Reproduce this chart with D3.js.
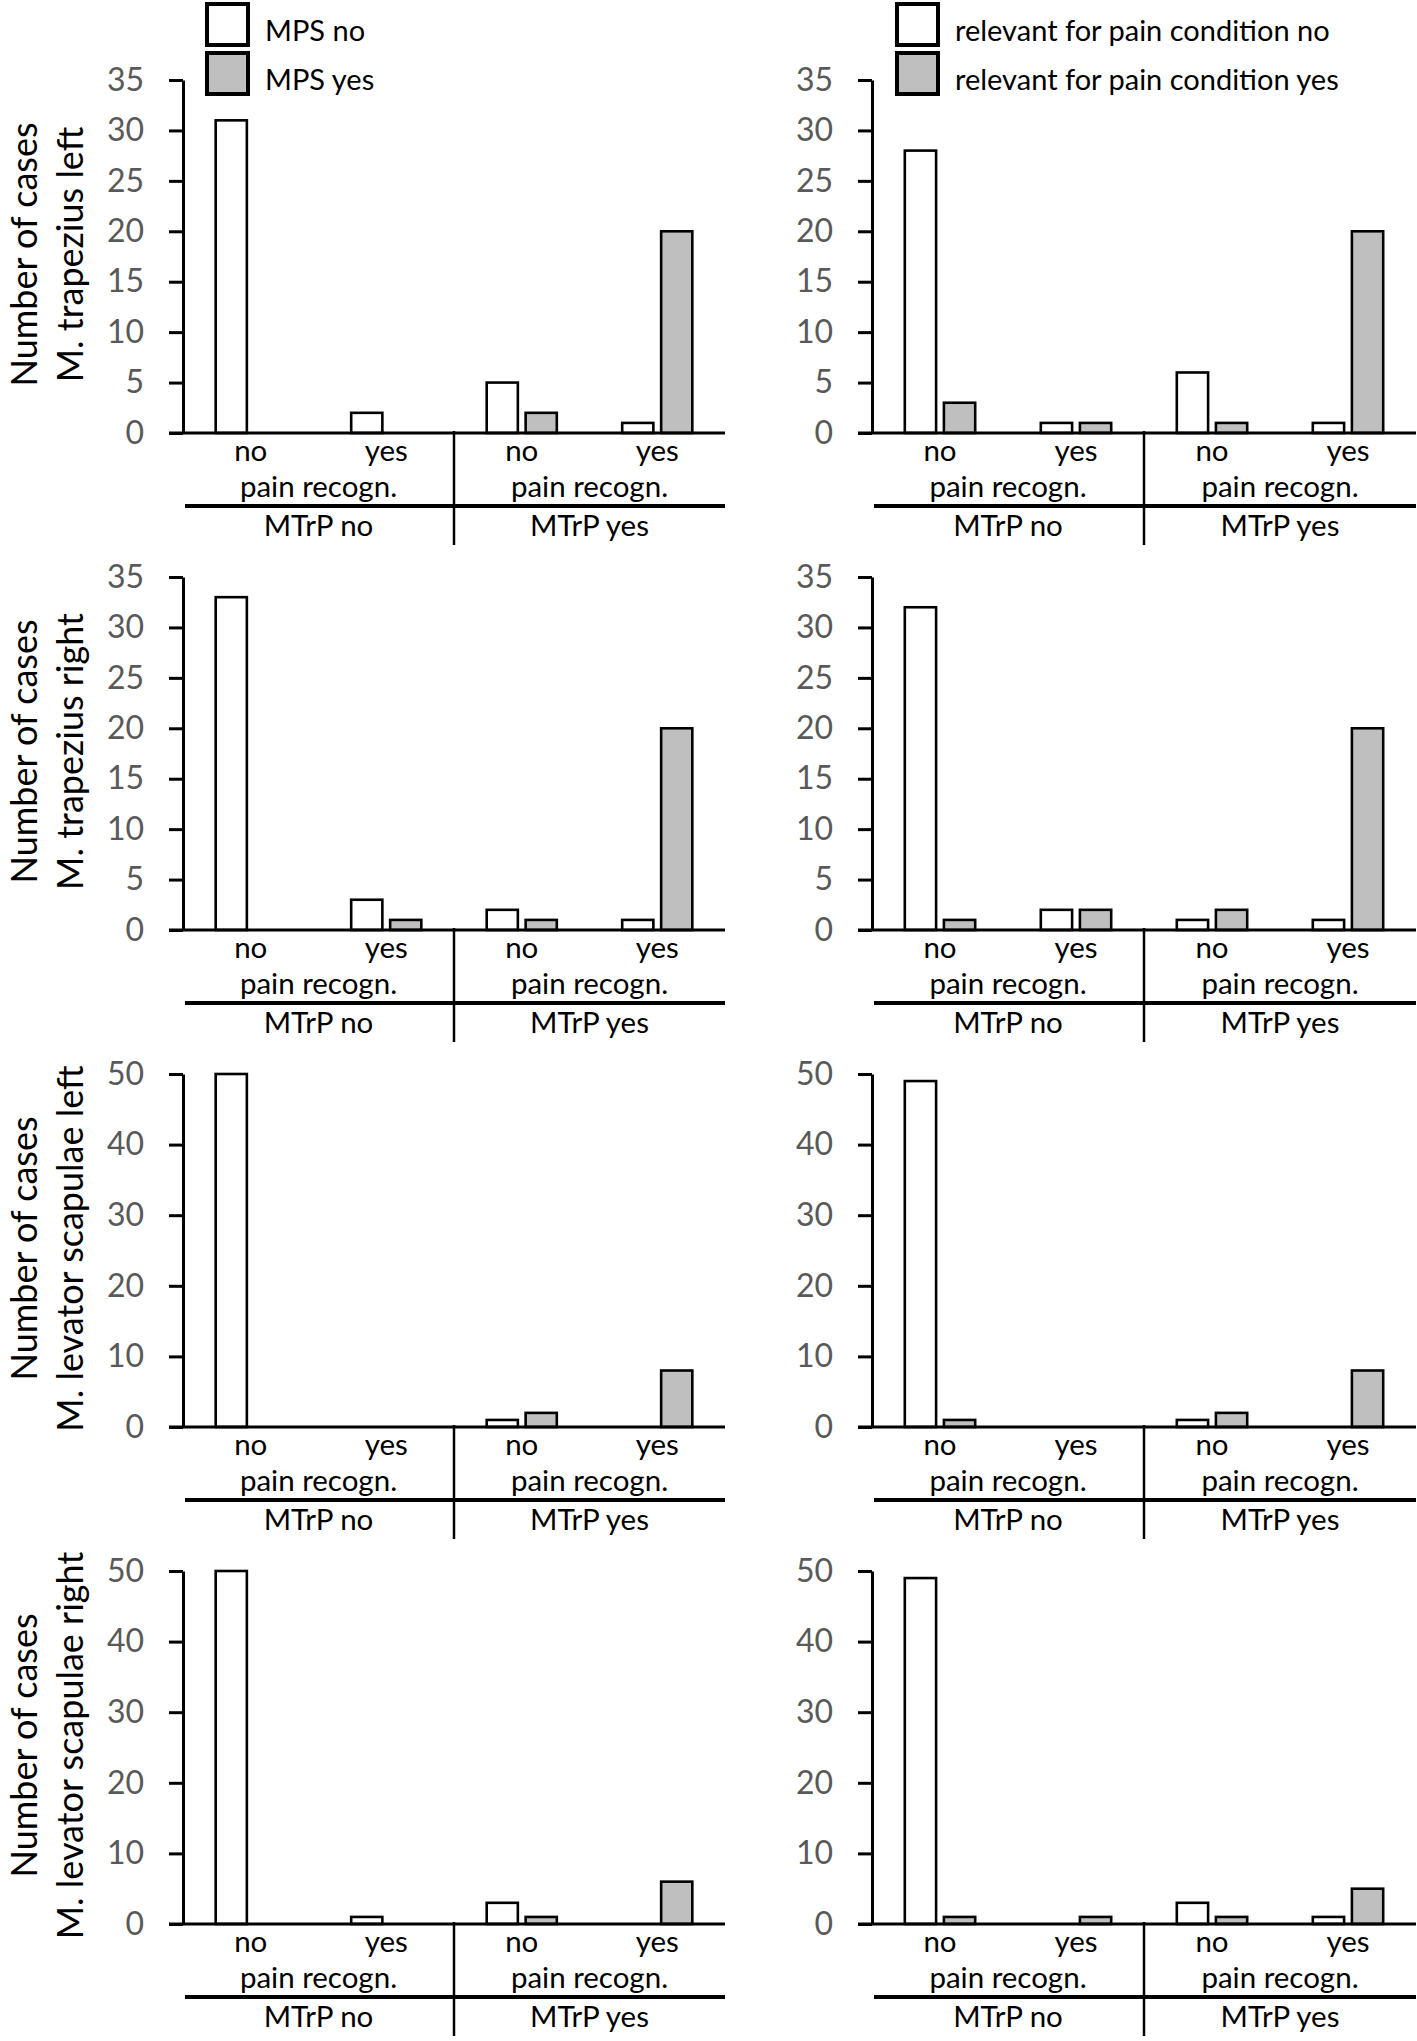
<!DOCTYPE html>
<html>
<head>
<meta charset="utf-8">
<script src="https://cdn.jsdelivr.net/npm/d3@7"></script>
<style>
  html, body { margin: 0; padding: 0; background: #fff; }
  text { font-family: Lato, "Open Sans", sans-serif; }
</style>
</head>
<body>
<script>
// ---------- DATA ----------
const painCategories = ["no", "yes", "no", "yes"];          // pain recognition
const mtrpGroups = ["MTrP no", "MTrP yes"];
const groupSubLabel = "pain recogn.";
const muscles = ["M. trapezius left", "M. trapezius right", "M. levator scapulae left", "M. levator scapulae right"];
const yTitleLine1 = "Number of cases";
const yMaxValues = [35, 35, 50, 50];
const yTickSteps = [5, 5, 10, 10];

const legendMPS = ["MPS no", "MPS yes"];
const legendRelevant = ["relevant for pain condition no", "relevant for pain condition yes"];

// left column: MPS no / MPS yes
const mpsNo  = [[31, 2, 5, 1], [33, 3, 2, 1], [50, 0, 1, 0], [50, 1, 3, 0]];
const mpsYes = [[0, 0, 2, 20], [0, 1, 1, 20], [0, 0, 2, 8],  [0, 0, 1, 6]];
// right column: relevant for pain condition no / yes
const relNo  = [[28, 1, 6, 1], [32, 2, 1, 1], [49, 0, 1, 0], [49, 0, 3, 1]];
const relYes = [[3, 1, 1, 20], [1, 2, 2, 20], [1, 0, 2, 8],  [1, 1, 1, 5]];

const seriesFills = ["#ffffff", "#bfbfbf"];

// ---------- LAYOUT ----------
const W = 1417, H = 2041;
const rowTop0 = 80, rowGap = 497, plotH = 353;
const colLeft = [183, 872], colRight = [725, 1416];
const tickLen = 14;
const labelSize = 29.5;

const svg = d3.select("body").append("svg").attr("width", W).attr("height", H);

const columns = [
  { series: [mpsNo, mpsYes], legend: legendMPS, legendX: 207, showTitle: true },
  { series: [relNo, relYes], legend: legendRelevant, legendX: 897, showTitle: false }
];

// legends
columns.forEach(col => {
  const lg = svg.append("g");
  col.legend.forEach((lab, i) => {
    const by = 4 + i * 49;
    lg.append("rect").attr("x", col.legendX).attr("y", by).attr("width", 41).attr("height", 41)
      .attr("fill", seriesFills[i]).attr("stroke", "#000").attr("stroke-width", 4);
    lg.append("text").attr("x", col.legendX + 58).attr("y", by + 25).attr("dominant-baseline", "central")
      .attr("font-size", 29).attr("fill", "#000").text(lab);
  });
});

muscles.forEach((muscle, ri) => {
  const top = rowTop0 + ri * rowGap;
  const y0 = top + plotH;
  const y = d3.scaleLinear().domain([0, yMaxValues[ri]]).range([y0, top]);

  columns.forEach((col, ci) => {
    const g = svg.append("g");
    const left = colLeft[ci], right = colRight[ci];
    const x0 = d3.scaleBand().domain(d3.range(painCategories.length)).range([left, right])
      .paddingInner(0.4825).paddingOuter(0.24125);
    const x1 = d3.scaleBand().domain([0, 1]).range([0, x0.bandwidth()]).paddingInner(0.2);
    const step = x0.step();
    const sep = left + 2 * step;

    // bars
    col.series.forEach((ser, si) => {
      ser[ri].forEach((v, i) => {
        if (v <= 0) return;
        g.append("rect")
          .attr("x", x0(i) + x1(si))
          .attr("y", y(v))
          .attr("width", x1.bandwidth())
          .attr("height", y0 - y(v))
          .attr("fill", seriesFills[si])
          .attr("stroke", "#000")
          .attr("stroke-width", 2.6);
      });
    });

    // y axis
    const yAxis = d3.axisLeft(y)
      .tickValues(d3.range(0, yMaxValues[ri] + 1, yTickSteps[ri]))
      .tickSize(tickLen).tickSizeOuter(0).tickPadding(25);
    const ag = g.append("g").attr("transform", `translate(${left},0)`).call(yAxis);
    ag.select(".domain").attr("stroke", "#000").attr("stroke-width", 3);
    ag.selectAll(".tick line").attr("stroke", "#000").attr("stroke-width", 3);
    ag.selectAll(".tick text").attr("font-size", 32).attr("fill", "#595959")
      .attr("font-family", "Lato, 'Open Sans', sans-serif");

    // x axis baseline
    g.append("line").attr("x1", left - tickLen).attr("x2", right).attr("y1", y0).attr("y2", y0)
      .attr("stroke", "#000").attr("stroke-width", 3);

    // category labels
    painCategories.forEach((lab, i) => {
      g.append("text").attr("x", x0(i) + x0.bandwidth() / 2).attr("y", y0 + 28)
        .attr("text-anchor", "middle").attr("font-size", labelSize).attr("fill", "#000").text(lab);
    });

    // group labels
    const gBounds = [[left, sep], [sep, right]];
    mtrpGroups.forEach((lab, gi) => {
      const cx = (gBounds[gi][0] + gBounds[gi][1]) / 2;
      g.append("text").attr("x", cx).attr("y", y0 + 64).attr("text-anchor", "middle")
        .attr("font-size", labelSize).attr("fill", "#000").text(groupSubLabel);
      g.append("text").attr("x", cx).attr("y", y0 + 103).attr("text-anchor", "middle")
        .attr("font-size", labelSize).attr("fill", "#000").text(lab);
    });

    // group line & separator
    g.append("line").attr("x1", left + 2).attr("x2", right).attr("y1", y0 + 73).attr("y2", y0 + 73)
      .attr("stroke", "#000").attr("stroke-width", 4);
    g.append("line").attr("x1", sep).attr("x2", sep).attr("y1", y0 - 2).attr("y2", y0 + 112)
      .attr("stroke", "#000").attr("stroke-width", 2.5);

    // y title
    if (col.showTitle) {
      const cy = top + plotH / 2 - 2;
      g.append("text").attr("transform", `translate(37,${cy}) rotate(-90)`)
        .attr("text-anchor", "middle").attr("font-size", 36).attr("fill", "#000").text(yTitleLine1);
      g.append("text").attr("transform", `translate(83,${cy}) rotate(-90)`)
        .attr("text-anchor", "middle").attr("font-size", 36).attr("fill", "#000").text(muscle);
    }
  });
});
</script>
</body>
</html>
